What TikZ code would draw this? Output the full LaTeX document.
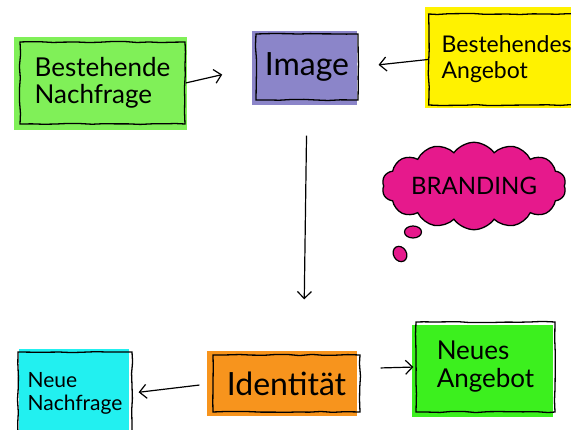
\documentclass[tikz,border=0pt]{standalone}
\usepackage{fontspec}
\setmainfont{Lato}
\usetikzlibrary{arrows.meta,shapes.symbols,shapes.geometric,backgrounds,decorations.pathmorphing}
\definecolor{gA}{HTML}{80F058}
\definecolor{pu}{HTML}{8B85C9}
\definecolor{ye}{HTML}{FFF200}
\definecolor{ma}{HTML}{E6198C}
\definecolor{cy}{HTML}{22F0F0}
\definecolor{orr}{HTML}{F7941D}
\definecolor{gB}{HTML}{3CF01E}
\tikzset{
  sketch/.style={decorate,decoration={random steps,segment length=12pt,amplitude=0.6pt}},
  box/.style={draw=black,line width=1.3pt,sketch,inner sep=0pt,text=black,align=left},
  conn/.style={line width=1.2pt,-{Straight Barb[length=7pt,width=14pt,line width=1.2pt]}}
}
\begin{document}
\pgfmathsetseed{7}
\begin{tikzpicture}[x=1pt,y=-1pt]
\useasboundingbox (0,0) rectangle (571,430);
\node[box,minimum width=165pt,minimum height=82pt,font=\fontsize{26}{27}\selectfont] (bn) at (102.5,83) {Bestehende\\Nachfrage};
\node[box,minimum width=102pt,minimum height=66pt,font=\fontsize{32}{33}\selectfont] (img) at (307,67) {Image};
\node[box,minimum width=152pt,minimum height=91pt,font=\fontsize{23}{26}\selectfont,anchor=west] (ba) at (428,59.5) {\hspace*{4pt}Bestehendes\\\hspace*{4pt}Angebot};
\node[cloud,cloud puffs=14,cloud puff arc=110,aspect=2.6,draw=black,line width=1.3pt,fill=ma,minimum width=184pt,minimum height=78pt,inner sep=0pt,font=\fontsize{24}{25}\selectfont] (br) at (474,186) {BRANDING};
\node[ellipse,draw=black,line width=1.2pt,fill=ma,minimum width=17pt,minimum height=12pt,inner sep=0pt] (b1) at (413,232) {};
\node[ellipse,draw=black,line width=1.2pt,fill=ma,minimum width=13pt,minimum height=16pt,inner sep=0pt,rotate=30] (b2) at (400,254) {};
\node[box,minimum width=114pt,minimum height=82pt,font=\fontsize{21}{23}\selectfont] (nn) at (75,393) {Neue\\Nachfrage};
\node[box,minimum width=147pt,minimum height=57pt,font=\fontsize{32}{33}\selectfont] (id) at (286.5,383.5) {Identität};
\node[box,minimum width=139pt,minimum height=90pt,font=\fontsize{26}{28}\selectfont] (na) at (485.5,367) {Neues\\Angebot};
\begin{scope}[on background layer]
  \fill[white] (0,0) rectangle (571,430);
  \fill[gA] ([shift={(-5,-4)}]bn.north west) rectangle ([shift={(1,5)}]bn.south east);
  \fill[pu] ([shift={(-3,-2)}]img.north west) rectangle ([shift={(-2,4)}]img.south east);
  \fill[ye] ([shift={(-3,-6)}]ba.north west) rectangle ([shift={(0,2)}]ba.south east);
  \fill[cy] ([shift={(2,-2)}]nn.north west) rectangle ([shift={(-4,2)}]nn.south east);
  \fill[orr] ([shift={(-5,-3)}]id.north west) rectangle ([shift={(-4,3)}]id.south east);
  \fill[gB] ([shift={(-3,4)}]na.north west) rectangle ([shift={(-3,4)}]na.south east);
\end{scope}
\draw[conn,shorten >=34pt] (bn.east) -- (img.west);
\draw[conn,shorten >=20pt] (ba.west) -- (img.east);
\draw[conn,shorten <=35pt,shorten >=55pt] (img.south) -- ([xshift=17pt]id.north);
\draw[conn,shorten <=13pt,shorten >=6pt] (id.west) -- (nn.east);
\draw[conn,shorten <=20pt,shorten >=2pt] ([yshift=15pt]id.east) -- (na.west);
\end{tikzpicture}
\end{document}
